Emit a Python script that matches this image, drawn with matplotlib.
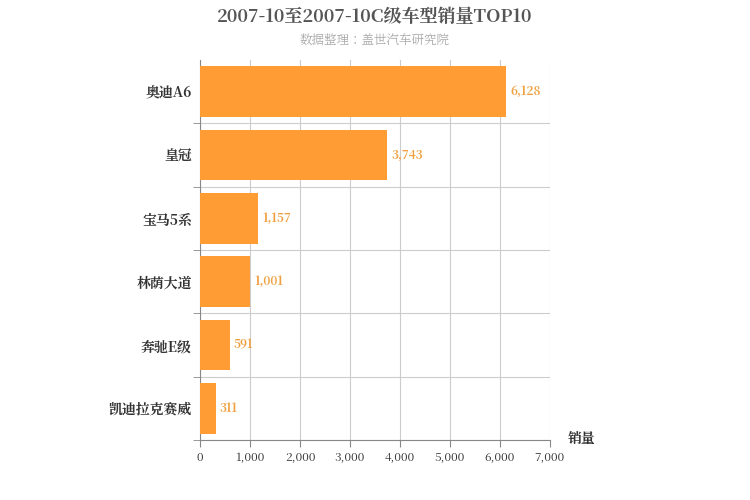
import matplotlib.pyplot as plt
from matplotlib import font_manager
import numpy as np

# pick whatever CJK font is actually registered
cjk = [f.name for f in font_manager.fontManager.ttflist if "CJK" in f.name]
cjk_name = next((n for n in cjk if "SC" in n), cjk[0] if cjk else "DejaVu Sans")
plt.rcParams['font.family'] = [cjk_name, 'DejaVu Sans']

models = ["奥迪A6", "皇冠", "宝马5系", "林荫大道", "奔驰E级", "凯迪拉克赛威"]
sales = [6128, 3743, 1157, 1001, 591, 311]
xticks = [0, 1000, 2000, 3000, 4000, 5000, 6000, 7000]

fig = plt.figure(figsize=(7.5, 5), dpi=100)
ax = fig.add_axes([0.267, 0.12, 0.466, 0.76])

y = np.arange(len(models))[::-1]
ax.barh(y, sales, height=0.8, color="#ff9c33", zorder=3)
for yi, v in zip(y, sales):
    ax.text(v + 80, yi, f"{v:,}", va="center", ha="left", fontsize=8.5,
            color="#f0a040", fontweight="bold")

ax.set_xlim(0, 7000)
ax.set_ylim(-0.5, len(models) - 0.5)
ax.set_xticks(xticks)
ax.set_xticklabels([f"{t:,}" for t in xticks], fontsize=8.5, color="#333")
ax.set_yticks(y)
ax.set_yticklabels(models, fontsize=10, fontweight="bold", color="#333")
ax.set_yticks(np.arange(len(models)) - 0.5, minor=True)
ax.tick_params(axis="y", which="major", length=0, pad=6)
ax.tick_params(axis="y", which="minor", length=5, color="#888")
ax.tick_params(axis="x", length=5, color="#888")
ax.grid(axis="x", color="#ccc", linewidth=0.8, zorder=0)
ax.grid(axis="y", which="minor", color="#ccc", linewidth=0.8, zorder=0)
for s in ["top", "right"]:
    ax.spines[s].set_visible(False)
ax.spines["left"].set_color("#888")
ax.spines["bottom"].set_color("#888")

fig.text(0.5, 0.965, "2007-10至2007-10C级车型销量TOP10", ha="center", va="center",
         fontsize=13, fontweight="bold", color="#555")
fig.text(0.5, 0.918, "数据整理：盖世汽车研究院", ha="center", va="center",
         fontsize=9, color="#aaa")
fig.text(0.775, 0.122, "销量", ha="center", va="center", fontsize=10,
         fontweight="bold", color="#333")

fig.savefig("out.png", dpi=100)
